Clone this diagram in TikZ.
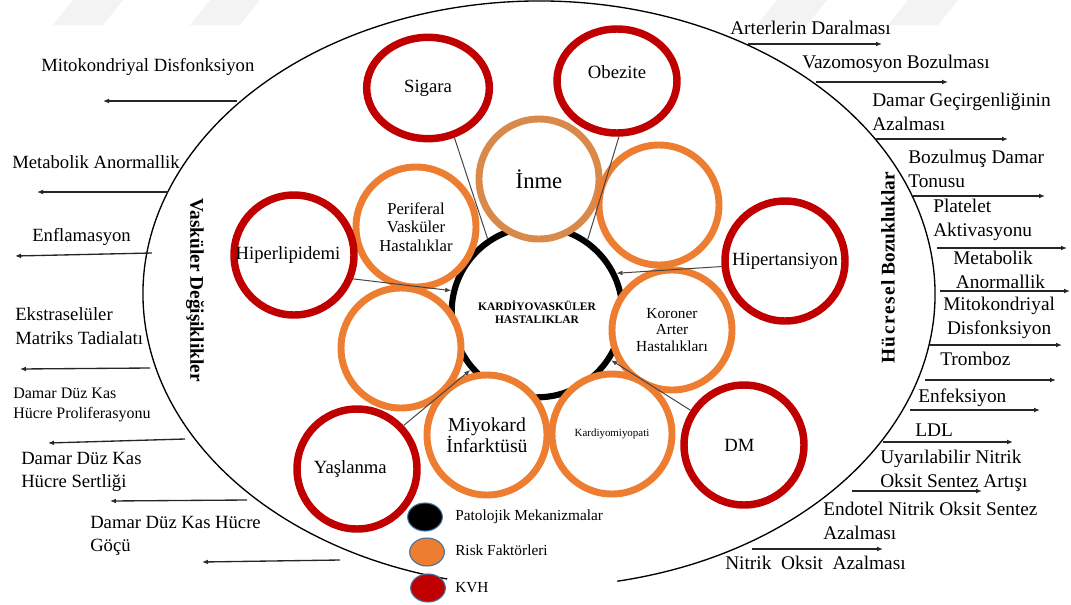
\documentclass[tikz,border=0pt]{standalone}
\usepackage{fontspec}
\setmainfont{Liberation Serif}
\usetikzlibrary{shapes.geometric,arrows.meta}
\definecolor{kvhred}{HTML}{C00000}
\definecolor{rforange}{HTML}{ED7D31}
\definecolor{inmeorange}{HTML}{D98A4B}
\definecolor{legendedge}{HTML}{41719C}
\definecolor{conngray}{HTML}{454545}
\definecolor{marklight}{HTML}{F3F3F3}
\begin{document}
\begin{tikzpicture}[x=0.75pt,y=0.75pt,
  kvh/.style={draw=kvhred, line width=5.6pt, fill=white, circle, minimum size=90pt,
    inner sep=0pt, align=center, font=\fontsize{14}{16}\selectfont},
  kvhoval/.style={kvh, ellipse},
  rf/.style={draw=rforange, line width=5.2pt, fill=white, circle, minimum size=90pt,
    inner sep=0pt, align=center},
  lbl/.style={anchor=west, inner sep=0pt, align=left, font=\fontsize{14.5}{17.5}\selectfont},
  lbll/.style={lbl, font=\fontsize{14}{17.5}\selectfont},
  outarrow/.style={line width=1pt, black!85, -{Latex[length=4.5pt,width=3.6pt]}},
  feed/.style={line width=0.75pt, conngray, -{Latex[length=4.5pt,width=3.6pt]}},
  plainfeed/.style={line width=0.75pt, conngray},
  legdot/.style={ellipse, draw=legendedge, line width=0.8pt, minimum width=26pt,
    minimum height=21pt, inner sep=0pt},
  legtxt/.style={anchor=west, inner sep=0pt, font=\fontsize{11.5}{13}\selectfont},
  sidetitle/.style={inner sep=0pt, font=\bfseries\fontsize{14.5}{16}\selectfont},
]
\useasboundingbox (0,0) rectangle (1071,-604);

% faint watermark bars along the top edge
\foreach \s in {53,190,757,888}
  \fill[marklight] (\s,-25) -- (\s+50,-25) -- (\s+70,0) -- (\s+20,0) -- cycle;

% outer ellipse, open at the bottom for the legend
\coordinate (ellc) at (539,-294);
\draw[line width=1pt] (ellc) ++(-78.6:396 and 293)
  arc[start angle=-78.6, end angle=256.6, x radius=396, y radius=293];

% central cycle
\node[circle, draw=black, line width=4.6pt, minimum size=128pt, inner sep=0pt,
  align=center, font=\bfseries\fontsize{8.6}{9.5}\selectfont] (ring) at (537,-312)
  {KARDİYOVASKÜLER\\HASTALIKLAR};

% risk factor ring of circles
\node[rf, draw=inmeorange, font=\fontsize{17}{19}\selectfont] (inme) at (539,-179) {İnme};
\node[rf] (upr) at (659,-205) {};
\node[rf, font=\fontsize{12.5}{14}\selectfont] (pvh) at (416,-227) {Periferal\\Vasküler\\Hastalıklar};
\node[rf] (lft) at (401,-348) {};
\node[rf, font=\fontsize{11.5}{12.6}\selectfont] (kah) at (672,-330) {Koroner\\Arter\\Hastalıkları};
\node[rf, font=\fontsize{14.8}{16}\selectfont] (mi) at (487,-435) {Miyokard\\İnfarktüsü};
\node[rf, font=\fontsize{8.2}{9}\selectfont] (km) at (612,-434) {Kardiyomiyopati};

% outer circles (labels nudged inside their rings with raisebox/hspace)
\node[kvhoval, minimum width=92pt, minimum height=76pt] (sig) at (428,-88) {Sigara};
\node[kvhoval, minimum width=90pt, minimum height=78pt] (obe) at (617,-81) {\raisebox{13pt}{Obezite}};
\node[kvh] (hip) at (294,-255) {Hiperlipidemi\hspace*{9pt}};
\node[kvh] (hpt) at (785,-261) {\raisebox{-5pt}{Hipertansiyon}};
\node[kvh] (dm) at (744,-445) {DM\hspace*{7pt}};
\node[kvh] (yas) at (357,-469) {\raisebox{-5pt}{Yaşlanma}\hspace*{10pt}};

% links into the cycle
\draw[plainfeed] (sig.-62.5) -- (ring.124.6);
\draw[plainfeed] (obe.-88) -- (ring.55.4);
\draw[feed] (hip.-22) -- (ring.166.3);
\draw[feed] (hpt.185.4) -- (ring.26.8);
\draw[feed] (dm.147.3) -- (ring.-33.7);
\draw[feed] (yas.43) -- (ring.221);

% side titles
\node[sidetitle, rotate=-90] (vasc) at (195,-290) {Vasküler Değişiklikler};
\node[sidetitle, rotate=90] (cell) at (888,-268)
  {{\addfontfeatures{LetterSpace=8}Hücresel} Bozukluklar};

% vascular changes (left)
\node[lbll] (l1) at (41,-67) {Mitokondriyal Disfonksiyon};
\node[lbll] (l2) at (12,-162) {Metabolik Anormallik};
\node[lbll] (l3) at (32,-237) {Enflamasyon};
\node[lbll] (l4) at (15,-326) {Ekstraselüler\\Matriks Tadialatı};
\node[lbll, font=\fontsize{12}{14.5}\selectfont] (l5) at (13,-405) {Damar Düz Kas\\Hücre Proliferasyonu};
\node[lbll] (l6) at (21,-472) {Damar Düz Kas\\Hücre Sertliği};
\node[lbll] (l7) at (90,-536) {Damar Düz Kas Hücre\\Göçü};

\foreach \n/\xa/\ya/\xb/\yb in {1/237/101/103/101, 2/168/192/37/192, 3/152/253/15/256,
    4/150/368/20/369, 5/185/439/48/443, 6/247/500/110/501, 7/340/560/202/562} {
  \coordinate (la\n) at (\xa,-\ya);
  \coordinate (lb\n) at (\xb,-\yb);
  \draw[outarrow] (la\n) -- (lb\n);
}

% cellular disorders (right)
\node[lbl] (r1) at (730,-28) {Arterlerin Daralması};
\node[lbl] (r2) at (802,-64) {Vazomosyon Bozulması};
\node[lbl] (r3) at (872,-112) {Damar Geçirgenliğinin\\Azalması};
\node[lbl] (r4) at (908,-169) {Bozulmuş Damar\\Tonusu};
\node[lbl] (r5) at (933,-220) {Platelet\\Aktivasyonu};
\node[lbl] (r6) at (953,-270) {Metabolik\\\hspace{2pt}Anormallik};
\node[lbl, align=center] (r7) at (943,-318) {Mitokondriyal\\Disfonksiyon};
\node[lbl] (r8) at (940,-359) {Tromboz};
\node[lbl] (r9) at (918,-398) {Enfeksiyon};
\node[lbl] (r10) at (915,-430) {LDL};
\node[lbl] (r11) at (880,-471) {Uyarılabilir Nitrik\\Oksit Sentez Artışı};
\node[lbl] (r12) at (823,-521) {Endotel Nitrik Oksit Sentez\\Azalması};
\node[lbl] (r13) at (725,-563) {Nitrik\ \ Oksit\ \ Azalması};

\foreach \n/\xa/\xb/\y in {1/748/882/44, 2/816/948/82, 3/876/1008/139, 4/913/1045/196,
    5/937/1067/248, 6/940/1070/291, 7/930/1062/345, 8/925/1056/380, 9/910/1040/410,
    10/883/1013/442, 11/852/982/491, 12/752/883/549} {
  \coordinate (ra\n) at (\xa,-\y);
  \coordinate (rb\n) at (\xb,-\y);
  \draw[outarrow] (ra\n) -- (rb\n);
}

% legend
\node[legdot, fill=black] (lgp) at (425,-517) {};
\node[legdot, fill=rforange] (lgr) at (427,-552) {};
\node[legdot, fill=kvhred] (lgk) at (428,-588) {};
\node[legtxt] (lgpt) at (455,-517) {Patolojik Mekanizmalar};
\node[legtxt] (lgrt) at (455,-550) {Risk Faktörleri};
\node[legtxt] (lgkt) at (455,-588) {KVH};
\end{tikzpicture}
\end{document}
